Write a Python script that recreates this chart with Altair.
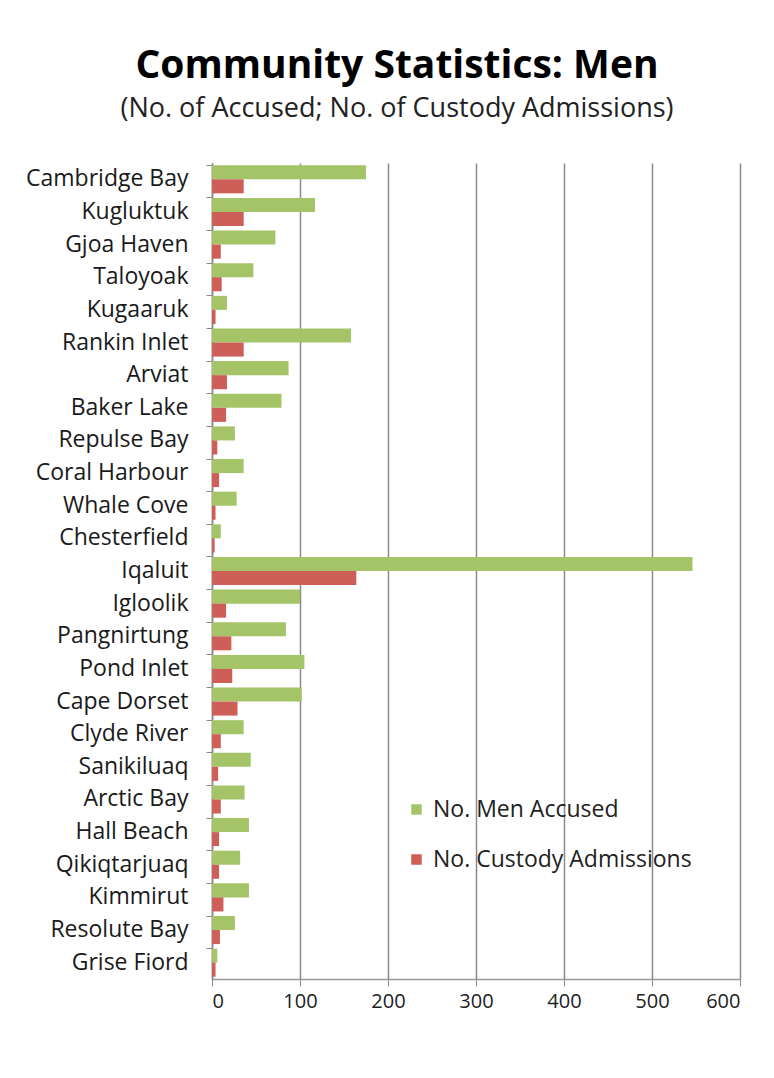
import altair as alt
import pandas as pd

communities = ["Cambridge Bay", "Kugluktuk", "Gjoa Haven", "Taloyoak", "Kugaaruk",
               "Rankin Inlet", "Arviat", "Baker Lake", "Repulse Bay", "Coral Harbour",
               "Whale Cove", "Chesterfield", "Iqaluit", "Igloolik", "Pangnirtung",
               "Pond Inlet", "Cape Dorset", "Clyde River", "Sanikiluaq", "Arctic Bay",
               "Hall Beach", "Qikiqtarjuaq", "Kimmirut", "Resolute Bay", "Grise Fiord"]
accused = [175, 117, 72, 47, 17, 158, 87, 79, 26, 36, 28, 10, 546, 100, 84, 105, 102,
           36, 44, 37, 42, 32, 42, 26, 6]
custody = [36, 36, 10, 11, 4, 36, 17, 16, 6, 8, 4, 3, 164, 16, 22, 23, 29, 10, 7, 10,
           8, 8, 13, 9, 4]
series_names = ["No. Men Accused", "No. Custody Admissions"]
x_ticks = [0, 100, 200, 300, 400, 500, 600]

rows = []
for c, a, k in zip(communities, accused, custody):
    rows.append({"community": c, "series": series_names[0], "value": a})
    rows.append({"community": c, "series": series_names[1], "value": k})
df = pd.DataFrame(rows)

FONT = "Open Sans"

chart = alt.Chart(df).mark_bar().encode(
    y=alt.Y("community:N", sort=communities,
            scale=alt.Scale(paddingInner=0.14, paddingOuter=0.07),
            axis=alt.Axis(title=None, labelFontSize=23, labelColor="#1a1a1a",
                          labelFont=FONT, labelPadding=18, tickSize=6,
                          tickColor="#888", domainColor="#888", domainWidth=1.5,
                          bandPosition=0, grid=False, labelLimit=0)),
    yOffset=alt.YOffset("series:N", sort=series_names),
    x=alt.X("value:Q", scale=alt.Scale(domain=[0, 600], nice=False),
            axis=alt.Axis(title=None, values=x_ticks, grid=True, gridColor="#8a8a8a",
                          gridWidth=1.5, labelFontSize=20, labelColor="#222",
                          labelFont=FONT, tickSize=7, tickColor="#888",
                          domainColor="#999", domainWidth=1.5, labelPadding=5)),
    color=alt.Color("series:N", scale=alt.Scale(domain=series_names,
                                                 range=["#A4C467", "#CD5E58"]),
                    legend=alt.Legend(title=None, orient="none", legendX=193, legendY=635,
                                      symbolType="square", symbolSize=110,
                                      symbolStrokeWidth=0, labelFontSize=23,
                                      labelFont=FONT, labelColor="#222",
                                      rowPadding=26, labelOffset=5, labelLimit=0)),
).properties(
    width=528, height=816,
    title=alt.TitleParams(text="Community Statistics: Men",
                          subtitle="(No. of Accused; No. of Custody Admissions)",
                          font=FONT, fontSize=39, fontWeight="bold", color="#000",
                          subtitleFont=FONT, subtitleFontSize=27, subtitleColor="#222",
                          subtitlePadding=10, anchor="middle", dx=-79, offset=41),
    autosize=alt.AutoSizeParams(type="none"),
    padding={"left": 204, "top": 155, "right": 26, "bottom": 60},
).configure_view(stroke=None)

chart.save("out.html", embed_options={"renderer": "svg", "actions": False})
